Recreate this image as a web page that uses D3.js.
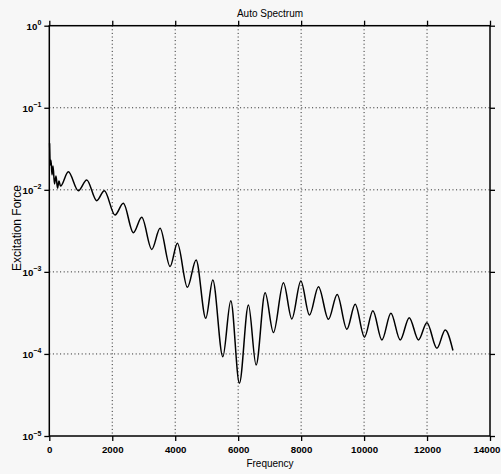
<!DOCTYPE html>
<html>
<head>
<meta charset="utf-8">
<script src="https://cdn.jsdelivr.net/npm/d3@7/dist/d3.min.js"></script>
<style>
  html, body { margin: 0; padding: 0; background: #f7f7f7; }
  svg { display: block; font-family: "Liberation Sans", Arial, sans-serif; }
</style>
</head>
<body>
<svg id="chart" width="501" height="474"></svg>
<script>
// ---- data ----
const title = "Auto Spectrum";
const xLabel = "Frequency";
const yLabel = "Excitation Force";
const xTicks = [0, 2000, 4000, 6000, 8000, 10000, 12000, 14000];
const yExponents = [0, -1, -2, -3, -4, -5];
const frequency = [10, 32, 54, 86, 118, 165, 213, 261, 308, 356,
  604, 922, 1189, 1507, 1748, 2088, 2352, 2670, 2937, 3255,
  3519, 3837, 4069, 4387, 4663, 4971, 5194, 5512, 5766, 6039,
  6326, 6570, 6856, 7120, 7438, 7705, 7991, 8265, 8551, 8868,
  9145, 9453, 9717, 10013, 10280, 10566, 10852, 11148, 11434, 11729,
  11996, 12314, 12578, 12823];
const force = [0.037, 0.020, 0.023, 0.0152, 0.0195, 0.0118, 0.0147, 0.0105, 0.0128, 0.0111,
  0.0166, 0.00976, 0.0132, 0.00737, 0.00976, 0.00493, 0.00685, 0.00300, 0.00462, 0.00188,
  0.00340, 0.00116, 0.00223, 0.000649, 0.00140, 0.000272, 0.000796, 0.0000925, 0.000446, 0.0000439,
  0.000395, 0.0000733, 0.000557, 0.000182, 0.000738, 0.000267, 0.000774, 0.000298, 0.000660, 0.000264,
  0.000530, 0.000200, 0.000403, 0.000160, 0.000336, 0.000148, 0.000313, 0.000148, 0.000277, 0.000148,
  0.000240, 0.000117, 0.000196, 0.000110];

// ---- layout ----
const svg = d3.select("#chart");
const L = 49.3, R = 490, T = 25.7, B = 436;
const x = d3.scaleLinear().domain([0, 14000]).range([L, R]);
const y = d3.scaleLog().domain([1e-5, 1]).range([B, T]);
const yTickVals = yExponents.map(e => Math.pow(10, e));

// grid
const grid = svg.append("g").attr("stroke", "#222").attr("stroke-width", 1)
  .attr("stroke-dasharray", "1,2.6").attr("fill", "none");
grid.selectAll("line.gx").data(xTicks.slice(1, -1)).join("line")
  .attr("x1", d => x(d)).attr("x2", d => x(d)).attr("y1", T).attr("y2", B);
grid.selectAll("line.gy").data(yTickVals.slice(1, -1)).join("line")
  .attr("y1", d => y(d)).attr("y2", d => y(d)).attr("x1", L).attr("x2", R);

// axes
function styleAxis(g) {
  g.select(".domain").remove();
  g.selectAll(".tick line").attr("stroke", "#000").attr("stroke-width", 1.3);
}
svg.append("g").attr("transform", `translate(0,${B})`)
  .call(d3.axisBottom(x).tickValues(xTicks).tickSize(5).tickFormat(d3.format("d")))
  .call(styleAxis)
  .call(g => g.selectAll("text").attr("font-size", 9.7).attr("font-weight", "bold")
    .attr("font-family", "Liberation Sans, Arial, sans-serif").attr("fill", "#000").attr("dy", "0.95em"))
  .call(g => g.selectAll(".tick").filter(d => d === 14000).select("text")
    .attr("text-anchor", "end").attr("x", 500 - R));
svg.append("g").attr("transform", `translate(0,${T})`)
  .call(d3.axisTop(x).tickValues(xTicks).tickSize(5).tickFormat(""))
  .call(styleAxis);
const yAxisG = svg.append("g").attr("transform", `translate(${L},0)`)
  .call(d3.axisLeft(y).tickValues(yTickVals).tickSize(5).tickFormat(""))
  .call(styleAxis);
svg.append("g").attr("transform", `translate(${R},0)`)
  .call(d3.axisRight(y).tickValues(yTickVals).tickSize(5).tickFormat(""))
  .call(styleAxis);

// y tick labels 10^n
yAxisG.selectAll(".tick").each(function(d) {
  const e = Math.round(Math.log10(d));
  const t = d3.select(this).append("text")
    .attr("x", -8).attr("y", 3.5).attr("text-anchor", "end")
    .attr("font-size", 9.7).attr("font-weight", "bold").attr("fill", "#000");
  t.append("tspan").text("10");
  t.append("tspan").attr("dy", -4.5).attr("font-size", 7).text(String(e).replace("-", "\u2212"));
});

// frame
svg.append("rect").attr("x", L).attr("y", T).attr("width", R - L).attr("height", B - T)
  .attr("fill", "none").attr("stroke", "#000").attr("stroke-width", 1.5);

// spectrum line
const pts = frequency.map((f, i) => [f, force[i]]);
svg.append("path").datum(pts)
  .attr("fill", "none").attr("stroke", "#000").attr("stroke-width", 1.5)
  .attr("stroke-linejoin", "round")
  .attr("d", d3.line().x(d => x(d[0])).y(d => y(d[1])).curve(d3.curveMonotoneX));

// texts
svg.append("text").attr("x", 270).attr("y", 17).attr("text-anchor", "middle")
  .attr("font-size", 10).attr("fill", "#000").text(title);
svg.append("text").attr("x", 270).attr("y", 467).attr("text-anchor", "middle")
  .attr("font-size", 10).attr("fill", "#000").text(xLabel);
svg.append("text").attr("transform", "translate(21,228) rotate(-90)").attr("text-anchor", "middle")
  .attr("font-size", 12).attr("fill", "#000").text(yLabel);
</script>
</body>
</html>
